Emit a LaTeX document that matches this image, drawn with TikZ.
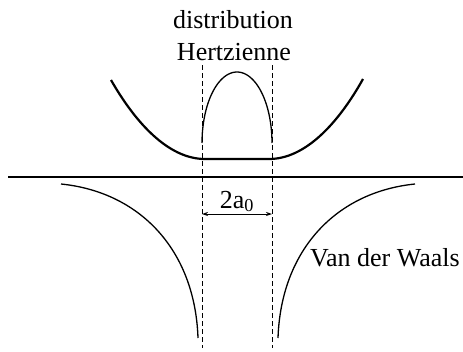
\documentclass[tikz,border=0pt]{standalone}
\usepackage{fontspec}
\setmainfont{Liberation Serif}
\usetikzlibrary{arrows.meta,positioning}

\begin{document}
\begin{tikzpicture}[
  x=1pt, y=-1pt,
  lbl/.style={font=\fontsize{26}{32}\selectfont, inner sep=0pt},
  axisline/.style={line width=2.6pt},
  bowl/.style={line width=2.2pt},
  curve/.style={line width=1.3pt},
  guide/.style={line width=0.9pt, dash pattern=on 5pt off 3pt},
  dim/.style={{Stealth[length=6pt,width=4pt]}-{Stealth[length=6pt,width=4pt]}, line width=0.8pt}
]
\useasboundingbox (0,0) rectangle (463,351);

% Dashed guides
\coordinate (gLtop) at (202,65);
\coordinate (gLbot) at (202,348);
\coordinate (gRtop) at (272,65);
\coordinate (gRbot) at (272,348);
\draw[guide] (gLtop) -- (gLbot);
\draw[guide] (gRtop) -- (gRbot);

% Zero level
\coordinate (zL) at (8,177);
\coordinate (zR) at (463,177);
\draw[axisline] (zL) -- (zR);

% Bowl
\draw[bowl] (111,80) .. controls (135,122) and (168,159) .. (205,159)
  -- (269,159) .. controls (306,159) and (339,122) .. (363,79);

% Hertzian distribution
\draw[curve] plot[domain=180:360, samples=60] ({237+35*cos(\x)},{143+71*sin(\x)});

% Van der Waals branches
\draw[curve] (61,184) .. controls (140,192) and (195,250) .. (198,338);
\draw[curve] (415,184) .. controls (336,192) and (281,250) .. (278,338);

% Width 2a0
\coordinate (wL) at (202,214);
\coordinate (wR) at (272,214);
\draw[dim] (wL) -- (wR);
\node[lbl, anchor=base] (width) at (237,208) {2a\textsubscript{0}};

% Labels
\node[lbl, anchor=base] (distr) at (233,28) {distribution};
\node[lbl, anchor=base] (hertz) at (234,60) {Hertzienne};
\node[lbl, anchor=base] (vdw) at (385,266) {Van der Waals};

\end{tikzpicture}
\end{document}
